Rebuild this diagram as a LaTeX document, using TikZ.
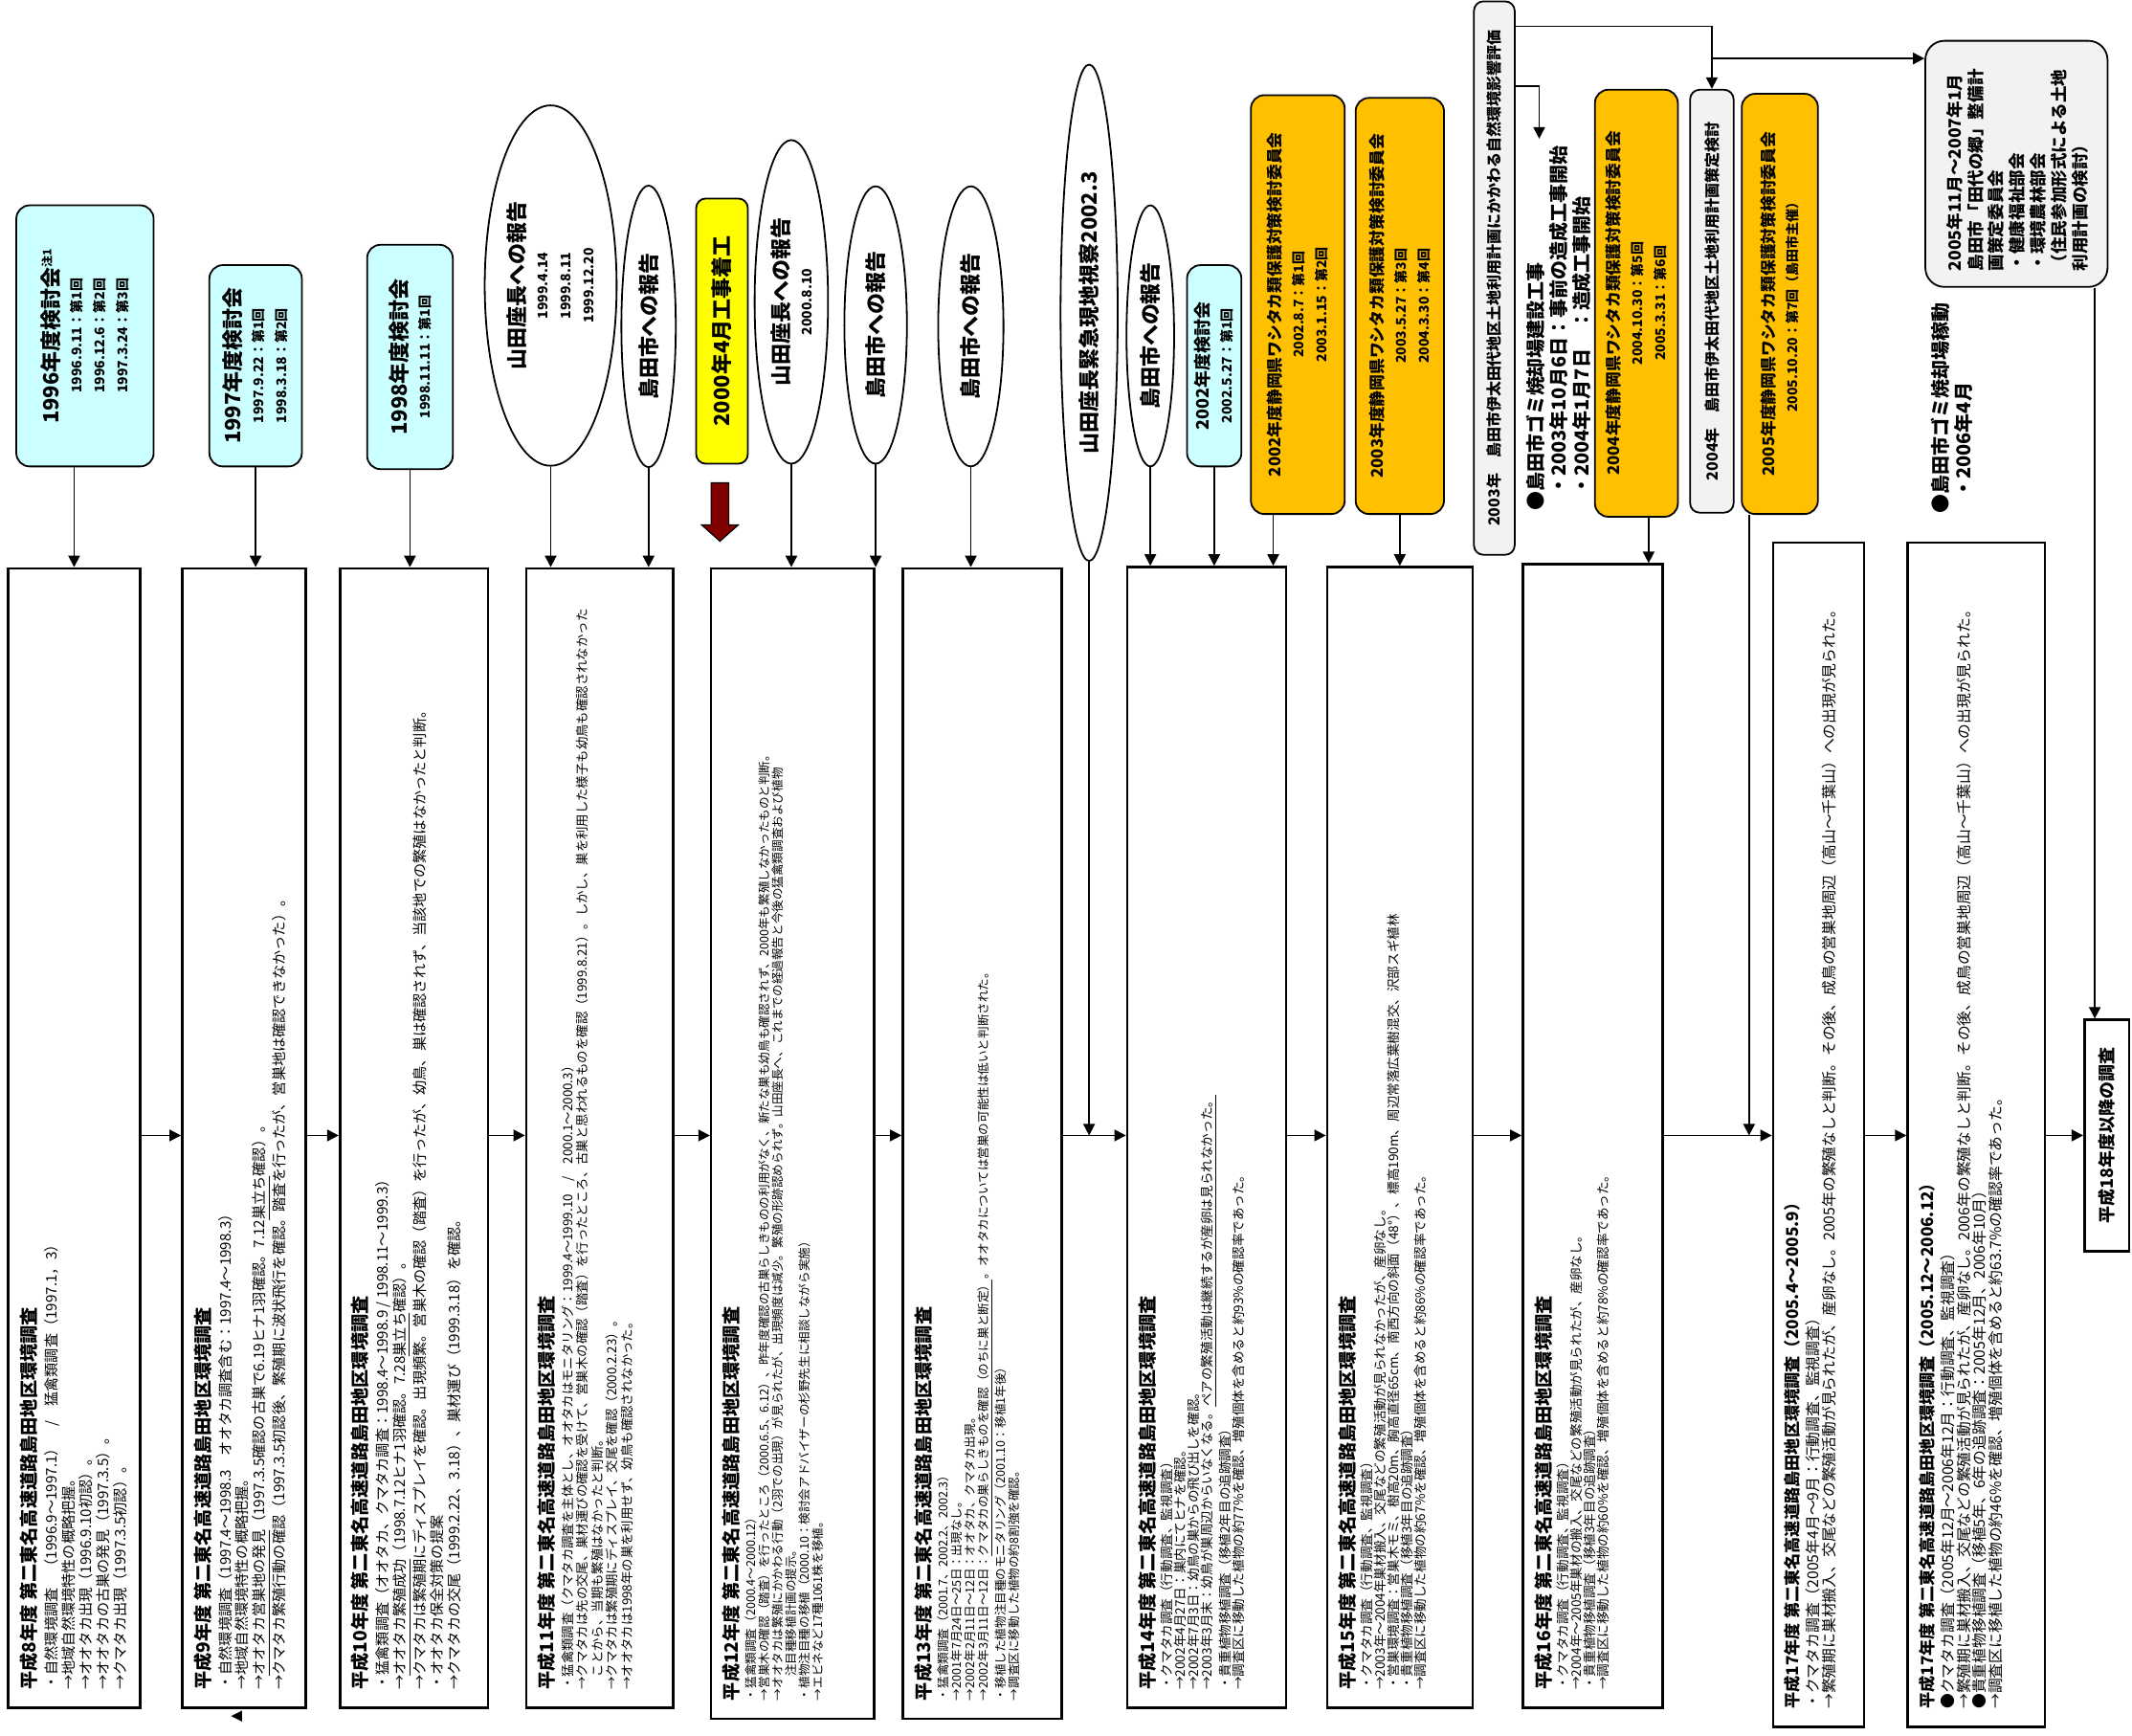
\documentclass[tikz,border=0pt]{standalone}
\usepackage{fontspec}
\setmainfont{Noto Sans CJK JP}
\usetikzlibrary{arrows.meta,shapes.geometric,fit,calc}

\definecolor{meetcyan}{HTML}{CCFFFF}
\definecolor{prefgold}{HTML}{FFC000}
\definecolor{startyellow}{HTML}{FFFF00}
\definecolor{plangray}{HTML}{F2F2F2}
\definecolor{blockred}{HTML}{800000}
\newcommand{\fs}[2]{\fontsize{#1}{#2}\selectfont}
\newcommand{\ttl}[1]{{\fs{9.6}{12}\bfseries #1}\\[2pt]}
\newcommand{\lblf}{\fs{11}{13}}
\newcommand{\prff}{\fs{8.4}{11}}
\newcommand{\datf}{\fs{7}{8.4}}

\begin{document}
\begin{tikzpicture}[
		x=0.025cm, y=-0.025cm,
		arr/.style={line width=0.9pt, -{Triangle[length=6pt,width=6pt]}},
		survey/.style={draw, line width=1.3pt, inner sep=0pt},
		meeting/.style={draw, line width=0.9pt, rounded corners=7pt, fill=meetcyan, inner sep=0pt},
		pref/.style={draw, line width=0.9pt, rounded corners=7pt, fill=prefgold, inner sep=0pt},
		plan/.style={draw, line width=0.9pt, rounded corners=5pt, fill=plangray, inner sep=0pt},
		ell/.style 2 args={draw, ellipse, line width=0.9pt, inner sep=0pt,
			minimum width=#1*0.025cm, minimum height=#2*0.025cm},
		vlabel/.style={rotate=90, align=center, inner sep=0pt, font=\bfseries},
		vnote/.style={rotate=90, align=left, anchor=north west, inner sep=0pt}
	]
	\useasboundingbox (0,0) rectangle (1568,1276);

	% survey boxes
	\node[survey, fit={(6,418) (103,1256)}] (h8) {};
	\node[survey, fit={(134,418) (225,1256)}] (h9) {};
	\node[survey, fit={(250,418) (359,1256)}] (h10) {};
	\node[survey, fit={(387,418) (495,1256)}] (h11) {};
	\node[survey, fit={(523,418) (643,1264)}] (h12) {};
	\node[survey, fit={(664,418) (781,1264)}] (h13) {};
	\node[survey, fit={(829,417) (946,1256)}] (h14) {};
	\node[survey, fit={(976,417) (1083,1256)}] (h15) {};
	\node[survey, fit={(1120,415) (1223,1256)}] (h16) {};
	\node[survey, fit={(1304,399) (1371,1270)}] (h17a) {};
	\node[survey, fit={(1403,399) (1504,1270)}] (h17b) {};
	\node[survey, fit={(1533,750) (1566,920)}] (h18) {};
	\coordinate (mid) at (0,835);

	% survey texts
	\node[vnote, font=\fs{7.6}{9}] at ($(h8.south west)+(9,-14)$) {%
		\ttl{平成8年度 第二東名高速道路島田地区環境調査}
		・自然環境調査　（1996.9～1997.1）　/　猛禽類調査（1997.1，3）\\
		→地域自然環境特性の概略把握。\\
		→オオタカ出現（1996.9.10初認）。\\
		→オオタカの古巣の発見（1997.3.5）。\\
		→クマタカ出現（1997.3.5初認）。};
	\node[vnote, font=\fs{7.6}{9}] at ($(h9.south west)+(9,-14)$) {%
		\ttl{平成9年度 第二東名高速道路島田地区環境調査}
		・自然環境調査（1997.4～1998.3　オオタカ調査含む：1997.4～1998.3）\\
		→地域自然環境特性の概略把握。\\
		→\underline{オオタカ営巣地の発見}（1997.3.5確認の古巣で6.19ヒナ1羽確認。7.12\underline{巣立ち}確認）。\\
		→クマタカ繁殖行動の確認（1997.3.5初認後、繁殖期に波状飛行を確認。踏査を行ったが、営巣地は確認できなかった）。};
	\node[vnote, font=\fs{7.6}{9}] at ($(h10.south west)+(9,-14)$) {%
		\ttl{平成10年度 第二東名高速道路島田地区環境調査}
		・猛禽類調査（オオタカ、クマタカ調査：1998.4～1998.9 / 1998.11～1999.3）\\
		→\underline{オオタカ繁殖成功}（1998.7.12ヒナ1羽確認。7.28\underline{巣立ち}確認）。\\
		→クマタカは繁殖期にディスプレイを確認。出現頻繁。営巣木の確認（踏査）を行ったが、幼鳥、巣は確認されず、当該地での繁殖はなかったと判断。\\
		・オオタカ保全対策の提案\\
		→クマタカの交尾（1999.2.22、3.18）、巣材運び（1999.3.18）を確認。};
	\node[vnote, font=\fs{6.7}{7.8}] at ($(h11.south west)+(9,-14)$) {%
		\ttl{平成11年度 第二東名高速道路島田地区環境調査}
		・猛禽類調査（クマタカ調査を主体とし、オオタカはモニタリング：1999.4～1999.10　/　2000.1～2000.3）\\
		→クマタカは先の交尾、巣材運びの確認を受けて、営巣木の確認（踏査）を行ったところ、古巣と思われるものを確認（1999.8.21）。しかし、巣を利用した様子も幼鳥も確認されなかった\\
		\hspace*{1em}ことから、当期も繁殖はなかったと判断。\\
		→クマタカは繁殖期にディスプレイ、交尾を確認（2000.2.23）。\\
		→オオタカは1998年の巣を利用せず、幼鳥も確認されなかった。};
	\node[vnote, font=\fs{6.3}{7}] at ($(h12.south west)+(9,-14)$) {%
		\ttl{平成12年度 第二東名高速道路島田地区環境調査}
		・猛禽類調査（2000.4～2000.12）\\
		→営巣木の確認（踏査）を行ったところ（2000.6.5、6.12）、昨年度確認の古巣らしきものの利用がなく、新たな巣も幼鳥も確認されず、2000年も繁殖しなかったものと判断。\\
		→オオタカは繁殖にかかわる行動（2羽での出現）が見られたが、出現頻度は減少。繁殖の形跡認められず。山田座長へ、これまでの経過報告と今後の猛禽類調査および植物\\
		\hspace*{2em}注目種移植計画の提示。\\
		・植物注目種の移植（2000.10：検討会アドバイザーの杉野先生に相談しながら実施）\\
		→エビネなど17種1061株を移植。};
	\node[vnote, font=\fs{6.3}{7}] at ($(h13.south west)+(9,-14)$) {%
		\ttl{平成13年度 第二東名高速道路島田地区環境調査}
		・猛禽類調査（2001.7、2002.2、2002.3）\\
		→2001年7月24日～25日：出現なし。\\
		→2002年2月11日～12日：オオタカ、クマタカ出現。\\
		→2002年3月11日～12日：\underline{クマタカの巣らしきものを確認（のちに巣と断定）}。オオタカについては営巣の可能性は低いと判断された。\\
		・移植した植物注目種のモニタリング（2001.10：移植1年後）\\
		→調査区に移動した植物の約8割強を確認。};
	\node[vnote, font=\fs{6.8}{7}] at ($(h14.south west)+(9,-14)$) {%
		\ttl{平成14年度 第二東名高速道路島田地区環境調査}
		・クマタカ調査（行動調査、監視調査）\\
		→2002年4月27日：巣内にてヒナを確認。\\
		→2002年7月3日：幼鳥の巣からの飛び出しを確認。\\
		→2003年3月末：幼鳥が巣周辺からいなくなる。\underline{ペアの繁殖活動は継続するが産卵は見られなかった。}\\
		・貴重植物移植調査（移植2年目の追跡調査）\\
		→調査区に移動した植物の約77\%を確認、増殖個体を含めると約93\%の確認率であった。};
	\node[vnote, font=\fs{6.8}{7}] at ($(h15.south west)+(9,-14)$) {%
		\ttl{平成15年度 第二東名高速道路島田地区環境調査}
		・クマタカ調査（行動調査、監視調査）\\
		→2003年～2004年巣材搬入、交尾などの繁殖活動が見られなかったが、産卵なし。\\
		・営巣環境調査：営巣木モミ、樹高20m、胸高直径65cm、南西方向の斜面（48°）、標高190m、周辺常落広葉樹混交、沢部スギ植林\\
		・貴重植物移植調査（移植3年目の追跡調査）\\
		→調査区に移動した植物の約67\%を確認、増殖個体を含めると約86\%の確認率であった。};
	\node[vnote, font=\fs{6.8}{7}] at ($(h16.south west)+(9,-14)$) {%
		\ttl{平成16年度 第二東名高速道路島田地区環境調査}
		・クマタカ調査（行動調査、監視調査）\\
		→2004年～2005年巣材の搬入、交尾などの繁殖活動が見られたが、産卵なし。\\
		・貴重植物移植調査（移植3年目の追跡調査）\\
		→調査区に移動した植物の約60\%を確認、増殖個体を含めると約78\%の確認率であった。};
	\node[vnote, font=\fs{7.9}{8.4}] at ($(h17a.south west)+(9,-14)$) {%
		{\fs{8.6}{11}\bfseries 平成17年度 第二東名高速道路島田地区環境調査（2005.4～2005.9）}\\[2pt]
		・クマタカ調査（2005年4月～9月：行動調査、監視調査）\\
		→繁殖期に巣材搬入、交尾などの繁殖活動が見られたが、産卵なし。2005年の繁殖なしと判断。その後、成鳥の営巣地周辺（高山～千葉山）への出現が見られた。};
	\node[vnote, font=\fs{7.9}{8.4}] at ($(h17b.south west)+(9,-14)$) {%
		{\fs{8.6}{11}\bfseries 平成17年度 第二東名高速道路島田地区環境調査（2005.12～2006.12）}\\[2pt]
		●クマタカ調査（2005年12月～2006年12月：行動調査、監視調査）\\
		→繁殖期に巣材搬入、交尾などの繁殖活動が見られたが、産卵なし。2006年の繁殖なしと判断。その後、成鳥の営巣地周辺（高山～千葉山）への出現が見られた。\\
		●貴重植物移植調査（移植5年、6年の追跡調査：2005年12月、2006年10月）\\
		→調査区に移植した植物の約46\%を確認、増殖個体を含めると約63.7\%の確認率であった。};
	\node[vlabel, font=\fs{9}{11}\bfseries] at (h18) {平成18年度以降の調査};

	% committees and reports
	\node[meeting, fit={(12,151) (113,343)}] (k96) {};
	\node[vlabel] at (k96) {\lblf 1996年度検討会\textsuperscript{\fs{6}{6}注1}\\
		\datf 1996.9.11：第1回\\ \datf 1996.12.6：第2回\\ \datf 1997.3.24：第3回};
	\node[meeting, fit={(154,195) (222,343)}] (k97) {};
	\node[vlabel] at (k97) {\lblf 1997年度検討会\\
		\datf 1997.9.22：第1回\\ \datf 1998.3.18：第2回};
	\node[meeting, fit={(270,180) (333,345)}] (k98) {};
	\node[vlabel] at (k98) {\lblf 1998年度検討会\\ \datf 1998.11.11：第1回};

	\node[ell={97}{265}] (e99y) at (405,210) {};
	\node[vlabel] at (e99y) {\lblf 山田座長への報告\\ \datf 1999.4.14\\ \datf 1999.8.11\\ \datf 1999.12.20};
	\node[ell={40}{207}] (e99s) at (477,240) {};
	\node[vlabel, font=\lblf\bfseries] at (e99s) {島田市への報告};

	\node[draw, line width=0.9pt, rounded corners=5pt, fill=startyellow, inner sep=0pt,
		fit={(512,146) (550,341)}] (start) {};
	\node[vlabel, font=\lblf\bfseries] at (start) {2000年4月工事着工};
	\draw[line width=0.6pt, fill=blockred] (523,355) -- (536,355) -- (536,386) -- (543,386)
		-- (529.5,398) -- (516,386) -- (523,386) -- cycle;

	\node[ell={54}{238}] (e00y) at (582,222) {};
	\node[vlabel] at (e00y) {\lblf 山田座長への報告\\ \datf 2000.8.10};
	\node[ell={46}{204}] (e00s) at (644,239) {};
	\node[vlabel, font=\lblf\bfseries] at (e00s) {島田市への報告};
	\node[ell={48}{206}] (e01s) at (714,240) {};
	\node[vlabel, font=\lblf\bfseries] at (e01s) {島田市への報告};

	\node[ell={42}{365}] (e02y) at (801,230) {};
	\node[vlabel, font=\lblf\bfseries] at (e02y) {山田座長緊急現地視察2002.3};
	\node[ell={35}{192}] (e02s) at (846,247) {};
	\node[vlabel, font=\lblf\bfseries] at (e02s) {島田市への報告};
	\node[meeting, fit={(873,195) (913,343)}] (k02) {};
	\node[vlabel] at (k02) {\fs{9}{11}2002年度検討会\\ \datf 2002.5.27：第1回};

	\node[pref, fit={(920,70) (989,378)}] (o02) {};
	\node[vlabel] at (o02) {\prff 2002年度静岡県ワシタカ類保護対策検討委員会\\
		\datf 2002.8.7：第1回\\ \datf 2003.1.15：第2回};
	\node[pref, fit={(997,72) (1062,378)}] (o03) {};
	\node[vlabel] at (o03) {\prff 2003年度静岡県ワシタカ類保護対策検討委員会\\
		\datf 2003.5.27：第3回\\ \datf 2004.3.30：第4回};

	\node[plan, fit={(1084,1) (1114,408)}] (g03) {};
	\node[vlabel, font=\fs{8}{10}\bfseries] at (g03) {2003年　島田市伊太田代地区土地利用計画にかかわる自然環境影響評価};
	\node[vnote, font=\fs{10}{12}\bfseries] (b03) at (1122,376) {●島田市ゴミ焼却場建設工事\\
		\hspace*{0.8em}・2003年10月6日：事前の造成工事開始\\
		\hspace*{0.8em}・2004年1月7日　：造成工事開始};
	\node[pref, fit={(1173,66) (1234,380)}] (o04) {};
	\node[vlabel] at (o04) {\prff 2004年度静岡県ワシタカ類保護対策検討委員会\\
		\datf 2004.10.30：第5回\\ \datf 2005.3.31：第6回};
	\node[plan, fit={(1243,66) (1275,377)}] (g04) {};
	\node[vlabel, font=\fs{8}{10}\bfseries] at (g04) {2004年　島田市伊太田代地区土地利用計画策定検討};
	\node[pref, fit={(1281,69) (1337,378)}] (o05) {};
	\node[vlabel] at (o05) {\prff 2005年度静岡県ワシタカ類保護対策検討委員会\\
		\datf 2005.10.20：第7回（島田市主催）};

	\node[plan, rounded corners=10pt, fit={(1416,30) (1550,211)}] (g05) {};
	\node[vnote, font=\fs{8.8}{10.9}\bfseries] at ($(g05.south west)+(16,-12)$) {2005年11月～2007年1月\\
		島田市「田代の郷」整備計\\画策定委員会\\・健康福祉部会\\・環境農林部会\\
		（住民参加形式による土地\\利用計画の検討）};
	\node[vnote, font=\fs{10}{12}\bfseries] (k06) at (1420,378) {●島田市ゴミ焼却場稼動\\
		\hspace*{0.8em}・2006年4月};

	% arrows from above
	\coordinate (a02) at ($(o02.south west)+(17,0)$);
	\coordinate (a04) at ($(o04.south)+(9,0)$);
	\coordinate (a05) at ($(o05.south west)+(6,0)$);
	\coordinate (a18) at ($(g05.south east)+(-10,0)$);
	\draw[arr] (k96.south -| h8.north) -- (h8.north);
	\draw[arr] (k97.south) -- (k97.south |- h9.north);
	\draw[arr] (k98.south) -- (k98.south |- h10.north);
	\draw[arr] (e99y.south) -- (e99y.south |- h11.north);
	\draw[arr] (e99s.south) -- (e99s.south |- h11.north);
	\draw[arr] (e00y.south) -- (e00y.south |- h12.north);
	\draw[arr] (e00s.south) -- (e00s.south |- h12.north);
	\draw[arr] (e01s.south) -- (e01s.south |- h13.north);
	\draw[arr] (e02y.south) -- (e02y.south |- mid);
	\draw[arr] (e02s.south) -- (e02s.south |- h14.north);
	\draw[arr] (k02.south) -- (k02.south |- h14.north);
	\draw[arr] (a02) -- (a02 |- h14.north);
	\draw[arr] (o03.south) -- (o03.south |- h15.north);
	\draw[arr] (a04) -- (a04 |- h16.north);
	\draw[arr] (a05) -- (a05 |- mid);

	% 2003 branch
	\coordinate (j1) at (1259,43);
	\coordinate (b03top) at (1132,102);
	\draw[arr] ($(g03.north east)+(0,19)$) -| (g04.north);
	\draw[arr] (j1) -- (j1 -| g05.west);
	\draw[arr] ($(g03.north east)+(0,63)$) -| (b03top);
	\draw[arr] (a18) -- (a18 |- h18.north);

	% time line
	\draw[arr] (h8.east |- mid) -- (h9.west |- mid);
	\draw[arr] (h9.east |- mid) -- (h10.west |- mid);
	\draw[arr] (h10.east |- mid) -- (h11.west |- mid);
	\draw[arr] (h11.east |- mid) -- (h12.west |- mid);
	\draw[arr] (h12.east |- mid) -- (h13.west |- mid);
	\draw[arr] (h13.east |- mid) -- (h14.west |- mid);
	\draw[arr] (h14.east |- mid) -- (h15.west |- mid);
	\draw[arr] (h15.east |- mid) -- (h16.west |- mid);
	\draw[arr] (h16.east |- mid) -- (h17a.west |- mid);
	\draw[arr] (h17a.east |- mid) -- (h17b.west |- mid);
	\draw[arr] (h17b.east |- mid) -- (h18.west |- mid);

	\fill (170,1262) -- (178,1258) -- (178,1266) -- cycle;

\end{tikzpicture}
\end{document}
